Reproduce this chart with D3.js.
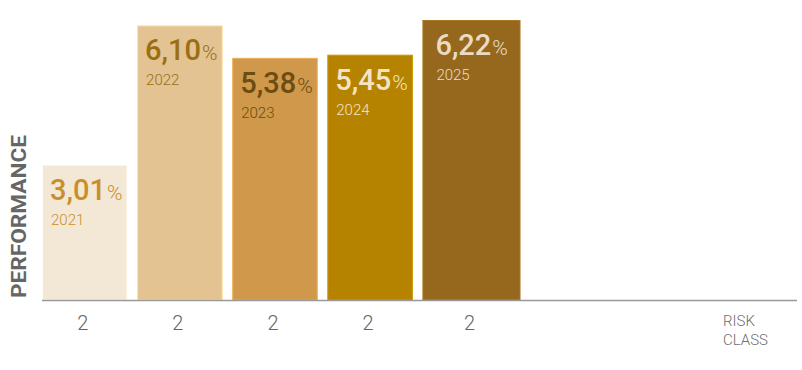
<!DOCTYPE html>
<html>
<head>
<meta charset="utf-8">
<script src="https://cdn.jsdelivr.net/npm/d3@7"></script>
<style>
  body { margin: 0; background: #fff; }
  svg { display: block; font-family: Roboto, "Open Sans", sans-serif; }
</style>
</head>
<body>
<div id="chart"></div>
<script>
// chart values
const years = ['2021', '2022', '2023', '2024', '2025'];
const performance = [3.01, 6.10, 5.38, 5.45, 6.22];
const riskClass = ['2', '2', '2', '2', '2'];
const barColors = ['#f3e8d6', '#e3c391', '#cf984b', '#b58300', '#96681d'];
const textColors = ['#c98f2a', '#9a6f14', '#6b4c12', '#f3e4c6', '#eadbc3'];

const full_width = 802;
const full_height = 370;
const baseY = 300;

const svg = d3.select('#chart')
  .append('svg')
    .attr('width', full_width)
    .attr('height', full_height);

let x = d3.scaleBand()
  .domain(years)
  .range([42, 508])
  .paddingInner(0.1)
  .paddingOuter(0);

let y = d3.scaleLinear()
  .domain([0, 6.22])
  .range([baseY, 20]);

const data = years.map((yr, i) => ({
  year: yr, value: performance[i], risk: riskClass[i], i: i
}));

const last = data.length - 1;
// last bar is drawn a little wider in the original
const barW = d => d.i === last ? x.step() + 3 : x.bandwidth();
const padL = d => d.i === last ? 13 : 8;

const bars = svg.append('g')
  .selectAll('g')
  .data(data)
  .enter()
  .append('g');

bars.append('rect')
  .attr('x', d => x(d.year) + 0.5)
  .attr('y', d => y(d.value) + 0.5)
  .attr('width', d => barW(d) - 1)
  .attr('height', d => baseY - y(d.value) - 0.5)
  .style('fill', d => barColors[d.i])
  .style('stroke', d => d3.color(barColors[d.i]).brighter(0.4))
  .style('stroke-width', 1);

// value label
const val = bars.append('text')
  .attr('x', d => x(d.year) + padL(d))
  .attr('y', d => y(d.value) + 35)
  .style('fill', d => textColors[d.i]);
val.append('tspan')
  .attr('font-size', 29)
  .attr('font-weight', 500)
  .text(d => d.value.toFixed(2).replace('.', ','));
val.append('tspan')
  .attr('font-size', 21)
  .attr('font-weight', 300)
  .attr('dx', 1)
  .text('%');

// year label
bars.append('text')
  .attr('x', d => x(d.year) + padL(d) + 1)
  .attr('y', d => y(d.value) + 60)
  .attr('font-size', 15)
  .attr('font-weight', 300)
  .style('fill', d => textColors[d.i])
  .text(d => d.year);

// baseline
svg.append('line')
  .attr('x1', 42).attr('x2', 797)
  .attr('y1', baseY + 0.5).attr('y2', baseY + 0.5)
  .style('stroke', '#999')
  .style('stroke-width', 1.5);

// risk class ticks
svg.append('g')
  .selectAll('text')
  .data(data)
  .enter()
  .append('text')
    .attr('x', d => x(d.year) + barW(d) / 2 - 2)
    .attr('y', 330)
    .attr('text-anchor', 'middle')
    .attr('font-size', 20)
    .attr('font-weight', 300)
    .style('fill', '#666')
    .text(d => d.risk);

const rc = svg.append('text')
  .attr('x', 723)
  .attr('y', 326)
  .attr('font-size', 15)
  .attr('font-weight', 300)
  .style('fill', '#6f6f6f');
rc.append('tspan').attr('x', 723).text('RISK');
rc.append('tspan').attr('x', 723).attr('dy', 19).text('CLASS');

svg.append('text')
  .attr('transform', 'translate(26,298) rotate(-90)')
  .attr('font-size', 21)
  .attr('font-weight', 700)
  .attr('textLength', 163)
  .attr('lengthAdjust', 'spacingAndGlyphs')
  .style('fill', '#666')
  .text('PERFORMANCE');
</script>
</body>
</html>
